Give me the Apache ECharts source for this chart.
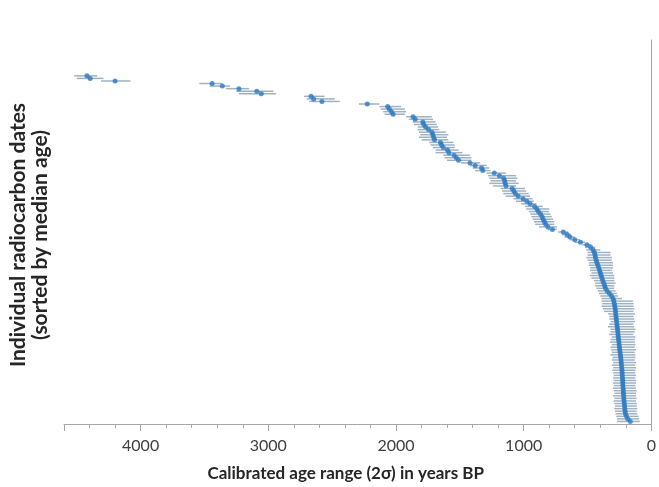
<!DOCTYPE html>
<html><head><meta charset="utf-8">
<script src="https://cdn.jsdelivr.net/npm/echarts@6/dist/echarts.min.js"></script>
<style>html,body{margin:0;padding:0;background:#fff}#c{width:659px;height:487px}</style>
</head><body><div id="c"></div>
<script>
// Median calibrated ages (years BP), listed from oldest (top) to youngest (bottom)
const medianAge = [
4420,4395,4200,3440,3360,3230,3090,3055,2665,2645,
2580,2225,2065,2052,2035,2022,1866,1850,1790,1782,
1768,1745,1718,1711,1705,1698,1652,1643,1630,1597,
1585,1545,1528,1510,1420,1380,1330,1320,1230,1190,
1157,1149,1145,1138,1090,1077,1065,1043,1005,975,
950,915,897,885,868,856,847,838,827,810,
775,690,660,638,600,555,505,475,456,446,
441,438,432,426,419,412,405,399,393,387,
380,372,366,359,346,328,312,300,294,290,
286,283,281,279,277,275,272,270,268,265,
263,261,259,257,254,252,250,248,245,242,
240,238,236,234,232,230,229,228,226,225,
224,223,221,220,219,217,216,214,212,210,
208,206,203,195,184,165
];
// Older end of the 2-sigma range (years BP)
const rangeOld = [
4520,4500,4310,3540,3460,3330,3250,3230,2720,2700,
2680,2290,2130,2120,2100,2090,1920,1900,1870,1860,
1830,1830,1820,1810,1820,1800,1740,1730,1710,1690,
1690,1630,1620,1600,1490,1420,1400,1380,1290,1280,
1270,1260,1270,1240,1180,1170,1160,1140,1080,1060,
1020,990,980,960,950,940,930,920,910,880,
810,730,700,680,640,600,540,520,510,500,
500,510,500,490,490,480,480,470,480,470,
450,440,440,430,420,410,400,390,390,385,
390,380,370,340,330,330,320,330,340,320,
320,330,310,320,325,310,320,315,310,320,
305,310,300,310,300,305,300,295,300,295,
300,295,300,295,290,300,290,295,290,285,
290,285,280,275,270,270
];
// Younger end of the 2-sigma range (years BP)
const rangeYoung = [
4340,4290,4080,3360,3300,3150,2960,2940,2560,2480,
2440,2130,1960,1930,1920,1930,1720,1710,1690,1680,
1670,1660,1610,1590,1600,1590,1550,1540,1540,1510,
1480,1420,1410,1410,1340,1290,1270,1260,1140,1060,
1050,1060,1040,1060,990,980,960,950,930,920,
900,850,800,800,790,780,770,760,760,740,
740,650,630,600,560,520,470,440,400,320,
320,310,310,300,300,300,310,300,290,290,
290,280,290,290,280,270,260,230,145,140,
140,135,140,130,140,135,130,140,135,125,
130,140,125,130,130,125,130,120,130,125,
125,130,120,125,120,125,125,120,125,120,
120,125,120,115,120,120,115,120,115,115,
110,115,110,100,95,90
];
const xTickValues = [0, 1000, 2000, 3000, 4000];

const N = medianAge.length;
const medianPoints = medianAge.map((m, i) => [m, N - i]);
const rangeBars = medianAge.map((m, i) => [rangeOld[i], rangeYoung[i], N - i]);

const chart = echarts.init(document.getElementById('c'));
const axisGray = '#a6a6a6';
const font = 'Lato, "Liberation Sans", sans-serif';
chart.setOption({
  animation: false,
  backgroundColor: '#fff',
  grid: { left: 64, right: 1, top: 40, bottom: 62 },
  xAxis: [{
    type: 'value', inverse: true, min: 0, max: 4600, interval: 1000,
    axisLine: { show: true, lineStyle: { color: axisGray, width: 1 } },
    axisTick: { show: true, length: 7, lineStyle: { color: axisGray } },
    axisLabel: {
      margin: 14, fontSize: 16, color: '#404040', fontFamily: font,
      formatter: v => (xTickValues.indexOf(v) >= 0 ? String(v) : '')
    },
    splitLine: { show: false },
    name: 'Calibrated age range (2σ) in years BP',
    nameLocation: 'middle', nameGap: 41,
    nameTextStyle: { fontWeight: 'bold', fontSize: 17, color: '#262626', fontFamily: font, padding: [0, 24, 0, 0] }
  }, {
    type: 'value', inverse: true, min: 0, max: 4600, interval: 200, position: 'bottom',
    axisLine: { show: false },
    axisTick: { show: true, length: 4, lineStyle: { color: axisGray } },
    axisLabel: { show: false },
    splitLine: { show: false }
  }],
  yAxis: {
    type: 'value', min: 0, max: 150,
    axisLine: { show: true, lineStyle: { color: axisGray, width: 1 } },
    axisTick: { show: false }, axisLabel: { show: false }, splitLine: { show: false }
  },
  graphic: [{
    type: 'text', x: 29, y: 235, rotation: Math.PI / 2,
    style: {
      text: 'Individual radiocarbon dates\n(sorted by median age)',
      font: 'bold 21px ' + font, fill: '#262626',
      textAlign: 'center', textVerticalAlign: 'middle', lineHeight: 22
    }
  }],
  series: [{
    type: 'custom',
    data: rangeBars,
    encode: { x: [0, 1], y: 2 },
    renderItem: function (params, api) {
      const a = api.coord([api.value(0), api.value(2)]);
      const b = api.coord([api.value(1), api.value(2)]);
      return {
        type: 'line',
        shape: { x1: a[0], y1: a[1], x2: b[0], y2: b[1] },
        style: { stroke: '#9fb2c4', lineWidth: 1.5 }
      };
    },
    z: 2
  }, {
    type: 'scatter',
    data: medianPoints,
    symbol: 'circle', symbolSize: 5,
    itemStyle: { color: '#2b79c2' },
    z: 3
  }]
});
</script>
</body></html>
